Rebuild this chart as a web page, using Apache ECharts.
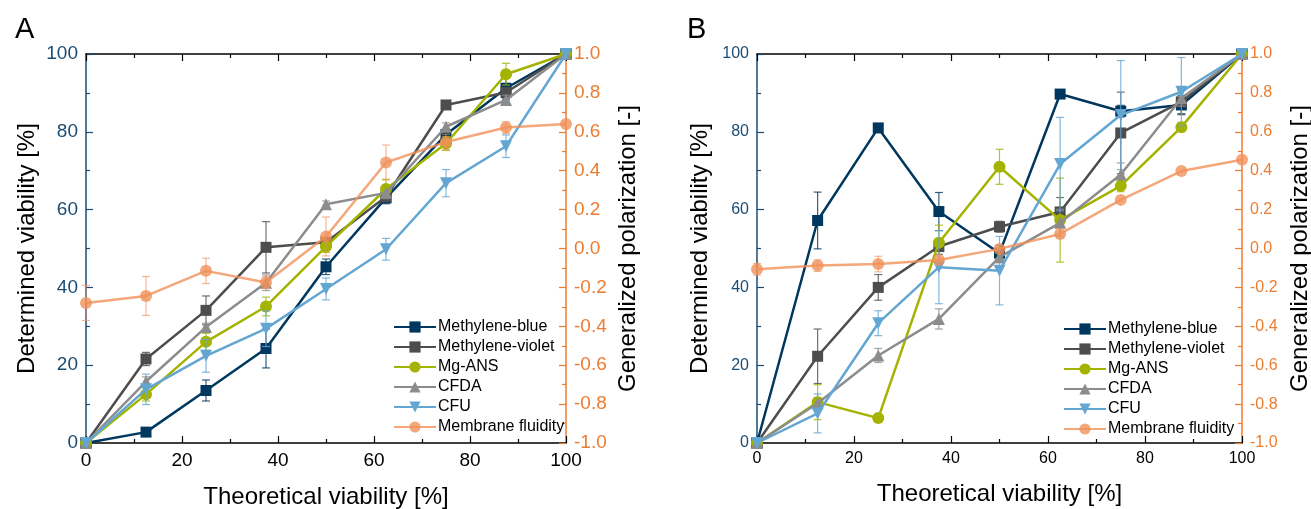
<!DOCTYPE html>
<html>
<head>
<meta charset="utf-8">
<script src="https://cdn.jsdelivr.net/npm/echarts@6/dist/echarts.min.js"></script>
<style>
  html, body { margin: 0; padding: 0; background: #fff; }
  #chart { width: 1311px; height: 509px; }
</style>
</head>
<body>
<div id="chart"></div>
<script>
// theoretical viability (x)
const xVals = [0, 12.5, 25, 37.5, 50, 62.5, 75, 87.5, 100];
const seriesNames = ['Methylene-blue', 'Methylene-violet', 'Mg-ANS', 'CFDA', 'CFU', 'Membrane fluidity'];

// panel A
const aMBlue = [0, 2.8, 13.5, 24.3, 45.3, 63.0, 79.3, 91.2, 100];
const aMBlueErr = [0, 0.6, 2.7, 5.0, 2.0, 1.5, 1.5, 3.0, 0];
const aMViolet = [0, 21.6, 34.1, 50.3, 51.6, 63.3, 86.9, 90.1, 100];
const aMVioletErr = [0, 1.7, 3.7, 6.6, 1.0, 1.5, 0.8, 1.5, 0];
const aMgAns = [0, 12.5, 26.0, 35.1, 50.5, 65.3, 77.0, 94.8, 100];
const aMgAnsErr = [0, 1.7, 2.2, 2.4, 1.5, 2.5, 1.8, 2.8, 0];
const aCfda = [0, 15.8, 29.8, 41.2, 61.4, 64.3, 81.3, 88.2, 100];
const aCfdaErr = [0, 1.2, 1.0, 2.0, 0.8, 1.5, 1.0, 1.2, 0];
const aCfu = [0, 13.8, 22.4, 29.4, 39.6, 49.8, 66.8, 76.3, 100];
const aCfuErr = [0, 3.9, 4.2, 4.6, 2.8, 2.8, 3.5, 2.9, 0];
const aFluid = [-0.28, -0.244, -0.115, -0.175, 0.062, 0.442, 0.548, 0.622, 0.64];
const aFluidErr = [0.09, 0.1, 0.065, 0.03, 0.1, 0.09, 0.04, 0.03, 0];

// panel B
const bMBlue = [0, 57.2, 81.0, 59.5, 48.8, 89.7, 85.3, 86.9, 100];
const bMBlueErr = [0, 7.3, 0, 4.9, 2.0, 0, 1.5, 2.5, 0];
const bMViolet = [0, 22.3, 40.0, 50.5, 55.6, 59.4, 79.7, 87.7, 100];
const bMVioletErr = [0, 7.0, 3.3, 2.0, 1.4, 3.7, 10.5, 3.0, 0];
const bMgAns = [0, 10.5, 6.4, 51.5, 71.0, 57.3, 66.1, 81.2, 100];
const bMgAnsErr = [0, 4.5, 0, 4.5, 4.5, 10.8, 1.5, 1.2, 0];
const bCfda = [0, 10.2, 22.5, 31.9, 47.8, 56.6, 69.0, 88.6, 100];
const bCfdaErr = [0, 1.5, 1.8, 2.6, 1.5, 3.5, 3.0, 2.0, 0];
const bCfu = [0, 7.6, 30.8, 45.2, 44.3, 71.7, 84.3, 90.3, 100];
const bCfuErr = [0, 5.0, 3.2, 9.4, 8.8, 12.0, 14.0, 8.8, 0];
const bFluid = [-0.107, -0.088, -0.08, -0.059, -0.002, 0.075, 0.25, 0.398, 0.456];
const bFluidErr = [0.03, 0.03, 0.04, 0, 0, 0, 0, 0, 0];

const FONT = 'Liberation Sans, Arial, sans-serif';
const colors = ['#00375e', '#4d4d4d', '#a3b300', '#8c8c8c', '#64a6d2', 'rgba(240,145,90,0.8)'];
const symbols = ['rect', 'rect', 'circle', 'triangle', 'triangle', 'circle'];
const rotates = [0, 0, 0, 0, 180, 0];
const leftColor = '#1b4d74';
const rightColor = '#ec7c30';

function lineSeries(idx, data, xi, yi) {
  return {
    name: seriesNames[idx],
    type: 'line',
    xAxisIndex: xi,
    yAxisIndex: yi,
    data: xVals.map((x, i) => [x, data[i]]),
    symbol: symbols[idx],
    symbolRotate: rotates[idx],
    symbolSize: idx == 0 || idx == 1 ? 11 : 12,
    color: colors[idx],
    lineStyle: { width: 2.5, color: colors[idx] },
    itemStyle: { color: colors[idx] },
    z: 3 + idx,
    animation: false
  };
}

function errSeries(idx, data, err, xi, yi) {
  let rows = [];
  xVals.forEach((x, i) => {
    if (err[i] > 0) rows.push([x, data[i] - err[i], data[i] + err[i]]);
  });
  return {
    name: 'err' + idx,
    type: 'custom',
    xAxisIndex: xi,
    yAxisIndex: yi,
    data: rows,
    encode: { x: 0, y: [1, 2] },
    z: 2 + idx,
    silent: true,
    animation: false,
    renderItem: function (params, api) {
      const x = api.value(0);
      const top = api.coord([x, api.value(2)]);
      const bot = api.coord([x, api.value(1)]);
      const w = 4;
      const style = { stroke: colors[idx], lineWidth: 1.2, opacity: 0.8 };
      return {
        type: 'group',
        children: [
          { type: 'line', shape: { x1: top[0], y1: top[1], x2: bot[0], y2: bot[1] }, style: style },
          { type: 'line', shape: { x1: top[0] - w, y1: top[1], x2: top[0] + w, y2: top[1] }, style: style },
          { type: 'line', shape: { x1: bot[0] - w, y1: bot[1], x2: bot[0] + w, y2: bot[1] }, style: style }
        ]
      };
    }
  };
}

function xAxes(grid, fs, gap) {
  return [
    {
      gridIndex: grid, type: 'value', position: 'bottom', min: 0, max: 100, interval: 20,
      name: 'Theoretical viability [%]', nameLocation: 'middle', nameGap: gap,
      nameTextStyle: { color: '#000', fontSize: 24, fontFamily: FONT },
      axisLine: { show: true, onZero: false, lineStyle: { color: '#000', width: 1.5 } },
      axisTick: { show: true, inside: true, length: 7, lineStyle: { color: '#000', width: 1.2 } },
      minorTick: { show: true, splitNumber: 2, length: 4, lineStyle: { color: '#000', width: 1.2 } },
      axisLabel: { color: '#000', fontSize: fs, fontFamily: FONT, margin: 8 },
      splitLine: { show: false }
    },
    {
      gridIndex: grid, type: 'value', position: 'top', min: 0, max: 100, interval: 20,
      axisLine: { show: true, onZero: false, lineStyle: { color: '#000', width: 1.5 } },
      axisTick: { show: true, inside: true, length: 7, lineStyle: { color: '#000', width: 1.2 } },
      minorTick: { show: true, splitNumber: 2, length: 4, lineStyle: { color: '#000', width: 1.2 } },
      axisLabel: { show: false },
      splitLine: { show: false }
    }
  ];
}

function yAxes(grid, fs, gapL, gapR) {
  return [
    {
      gridIndex: grid, type: 'value', position: 'left', min: 0, max: 100, interval: 20,
      name: 'Determined viability [%]', nameLocation: 'middle', nameGap: gapL, nameRotate: 90,
      nameTextStyle: { color: '#000', fontSize: 24, fontFamily: FONT },
      axisLine: { show: true, onZero: false, lineStyle: { color: leftColor, width: 1.5 } },
      axisTick: { show: true, inside: true, length: 7, lineStyle: { color: leftColor, width: 1.2 } },
      minorTick: { show: true, splitNumber: 2, length: 4, lineStyle: { color: leftColor, width: 1.2 } },
      axisLabel: { color: leftColor, fontSize: fs, fontFamily: FONT, margin: 8 },
      splitLine: { show: false }
    },
    {
      gridIndex: grid, type: 'value', position: 'right', min: -1, max: 1, interval: 0.2,
      name: 'Generalized polarization [-]', nameLocation: 'middle', nameGap: gapR, nameRotate: 90,
      nameTextStyle: { color: '#000', fontSize: 24, fontFamily: FONT },
      axisLine: { show: true, onZero: false, lineStyle: { color: rightColor, width: 1.5 } },
      axisTick: { show: true, inside: true, length: 7, lineStyle: { color: rightColor, width: 1.2 } },
      minorTick: { show: true, splitNumber: 2, length: 4, lineStyle: { color: rightColor, width: 1.2 } },
      axisLabel: { color: rightColor, fontSize: fs, fontFamily: FONT, margin: 8, formatter: v => v.toFixed(1) },
      splitLine: { show: false }
    }
  ];
}

function legendAt(left, top) {
  return {
    orient: 'vertical', left: left, top: top,
    data: seriesNames,
    itemWidth: 42, itemHeight: 14, itemGap: 4,
    textStyle: { color: '#000', fontSize: 16, fontFamily: FONT, lineHeight: 16, padding: [0, 0, 0, -3] },
    padding: 0
  };
}

const panelA = [aMBlue, aMViolet, aMgAns, aCfda, aCfu, aFluid];
const panelAErr = [aMBlueErr, aMVioletErr, aMgAnsErr, aCfdaErr, aCfuErr, aFluidErr];
const panelB = [bMBlue, bMViolet, bMgAns, bCfda, bCfu, bFluid];
const panelBErr = [bMBlueErr, bMVioletErr, bMgAnsErr, bCfdaErr, bCfuErr, bFluidErr];

let series = [];
panelA.forEach((d, i) => {
  const yi = i == 5 ? 1 : 0;
  series.push(errSeries(i, d, panelAErr[i], 0, yi));
  series.push(lineSeries(i, d, 0, yi));
});
panelB.forEach((d, i) => {
  const yi = i == 5 ? 3 : 2;
  series.push(errSeries(i, d, panelBErr[i], 2, yi));
  series.push(lineSeries(i, d, 2, yi));
});

let myChart = echarts.init(document.getElementById('chart'));
myChart.setOption({
  backgroundColor: '#fff',
  animation: false,
  textStyle: { fontFamily: FONT },
  title: [
    { text: 'A', left: 10, top: 10, textStyle: { fontSize: 29, fontWeight: 'normal', color: '#000', fontFamily: FONT } },
    { text: 'B', left: 682, top: 10, textStyle: { fontSize: 29, fontWeight: 'normal', color: '#000', fontFamily: FONT } }
  ],
  grid: [
    { left: 86, top: 54, width: 480, height: 389, outerBoundsMode: 'none' },
    { left: 757, top: 54, width: 485, height: 389, outerBoundsMode: 'none' }
  ],
  xAxis: xAxes(0, 19, 42).concat(xAxes(1, 16, 39)),
  yAxis: yAxes(0, 19, 47, 50).concat(yAxes(1, 16, 45, 46)),
  legend: [legendAt(393, 319), legendAt(1063, 321)],
  series: series
});
</script>
</body>
</html>
